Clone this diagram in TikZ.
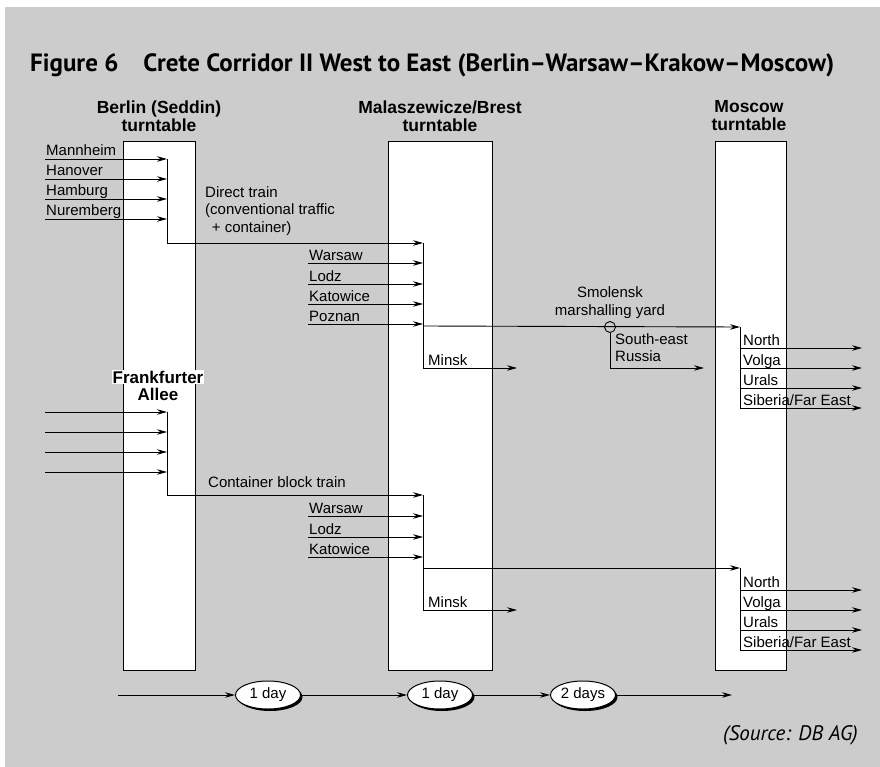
\documentclass[tikz,border=0pt]{standalone}
\usepackage{fontspec}
\setmainfont{Liberation Sans}
\newfontfamily\titlefont{PT Sans}
\usetikzlibrary{arrows.meta,shapes.geometric,shadows}
\definecolor{panel}{RGB}{204,204,204}
\tikzset{
  lab/.style={anchor=base west, inner sep=0pt, font=\fontsize{15}{17}\selectfont},
  hdr/.style={align=center, inner sep=0pt, font=\bfseries\fontsize{17.5}{18}\selectfont},
  wlab/.style={inner sep=1pt, fill=white, font=\bfseries\fontsize{17}{18}\selectfont},
  turn/.style={draw, fill=white, line width=1.1pt, inner sep=0pt, anchor=north west},
  conn/.style={line width=0.9pt},
  arr/.style={conn, -{Stealth[length=10pt,width=5.5pt]}},
  day/.style={ellipse, draw, fill=white, line width=1pt, minimum width=65pt, minimum height=28pt,
    inner sep=0pt, font=\fontsize{15}{17}\selectfont,
    drop shadow={shadow xshift=2pt, shadow yshift=-2pt, fill=black, opacity=1}},
  hub/.style={circle, draw, line width=0.9pt, minimum size=11pt, inner sep=0pt},
}
\begin{document}
\begin{tikzpicture}[x=1pt,y=-1pt]
\useasboundingbox (0,0) rectangle (880,767);
\fill[white] (0,0) rectangle (880,767);
\fill[panel] (5,7) rectangle (880,767);

% title and source
\node[anchor=west, inner sep=0pt, font=\titlefont\bfseries\fontsize{25}{28}\selectfont] (title) at (30,65)
  {Figure 6\hspace{1em}Crete Corridor II West to East (Berlin–Warsaw–Krakow–Moscow)};
\node[anchor=base east, inner sep=0pt, font=\titlefont\itshape\fontsize{21}{24}\selectfont] (src) at (858,740)
  {(Source: DB AG)};

% turntables
\node[turn, minimum width=72pt, minimum height=529pt] (berlin) at (123,141) {};
\node[turn, minimum width=104pt, minimum height=529pt] (brest) at (388,141) {};
\node[turn, minimum width=71pt, minimum height=529pt] (moscow) at (715,141) {};

\node[hdr] (hberlin) at (159,116) {Berlin (Seddin)\\turntable};
\node[hdr] (hbrest) at (440,116) {Malaszewicze/Brest\\turntable};
\node[hdr] (hmoscow) at (749,116) {Moscow\\turntable};

% ---------- upper flow ----------
\node[lab] (lman) at (46,156) {Mannheim};
\node[lab] (lhan) at (46,176) {Hanover};
\node[lab] (lham) at (46,196) {Hamburg};
\node[lab] (lnur) at (46,216) {Nuremberg};
\coordinate (s1) at (45,159); \coordinate (j1) at (167,159);
\coordinate (s2) at (45,179); \coordinate (j2) at (167,179);
\coordinate (s3) at (45,199); \coordinate (j3) at (167,199);
\coordinate (s4) at (45,219); \coordinate (j4) at (167,219);
\coordinate (jb) at (167,243);
\foreach \i in {1,...,4} \draw[arr] (s\i) -- (j\i);

\node[anchor=north west, align=left, inner sep=0pt, font=\fontsize{15}{17.5}\selectfont] (ldirect) at (205,186)
  {Direct train\\(conventional traffic\\\ \,+ container)};

\coordinate (w0) at (423,243);
\draw[conn] (j1) -- (jb);
\draw[arr] (jb) -- (w0);

\node[lab] (lwar) at (309,260) {Warsaw};
\node[lab] (llod) at (309,281) {Lodz};
\node[lab] (lkat) at (309,301) {Katowice};
\node[lab] (lpoz) at (309,321) {Poznan};
\coordinate (t1) at (308,263); \coordinate (u1) at (423,263);
\coordinate (t2) at (308,284); \coordinate (u2) at (423,284);
\coordinate (t3) at (308,304); \coordinate (u3) at (423,304);
\coordinate (t4) at (308,324); \coordinate (u4) at (423,324);
\foreach \i in {1,...,4} \draw[arr] (t\i) -- (u\i);

\coordinate (wx) at (423,326);
\coordinate (wm) at (423,368);
\coordinate (minskA) at (517,368);
\draw[conn] (w0) -- (wm);
\draw[arr] (wm) -- (minskA);
\node[lab] (lminA) at (428,365) {Minsk};

\node[hub] (smol) at (610,327) {};
\node[align=center, inner sep=0pt, font=\fontsize{15}{18}\selectfont] (lsmol) at (610,303) {Smolensk\\marshalling yard};
\coordinate (m0) at (740,327);
\draw[arr] (wx) -- (m0);
\coordinate (ser) at (610,368);
\coordinate (serE) at (704,368);
\draw[conn] (smol.south) -- (ser);
\draw[arr] (ser) -- (serE);
\node[anchor=north west, align=left, inner sep=0pt, font=\fontsize{15}{17}\selectfont] (lser) at (615,333) {South-east\\Russia};

\node[lab] (lnorA) at (743,345) {North};
\node[lab] (lvolA) at (743,365) {Volga};
\node[lab] (lurA) at (743,385) {Urals};
\node[lab] (lsibA) at (743,405) {Siberia/Far East};
\coordinate (p1) at (740,348); \coordinate (q1) at (862,348);
\coordinate (p2) at (740,368); \coordinate (q2) at (862,368);
\coordinate (p3) at (740,388); \coordinate (q3) at (862,388);
\coordinate (p4) at (740,408); \coordinate (q4) at (862,408);
\draw[conn] (m0) -- (p4);
\foreach \i in {1,...,4} \draw[arr] (p\i) -- (q\i);

% ---------- lower flow ----------
\node[wlab] (lfra) at (158,377) {Frankfurter};
\node[wlab] (lall) at (158,394) {Allee};
\coordinate (f1) at (45,412); \coordinate (g1) at (167,412);
\coordinate (f2) at (45,432); \coordinate (g2) at (167,432);
\coordinate (f3) at (45,452); \coordinate (g3) at (167,452);
\coordinate (f4) at (45,472); \coordinate (g4) at (167,472);
\coordinate (gb) at (167,495);
\foreach \i in {1,...,4} \draw[arr] (f\i) -- (g\i);
\node[lab] (lcont) at (208,487) {Container block train};
\coordinate (v0) at (423,495);
\draw[conn] (g1) -- (gb);
\draw[arr] (gb) -- (v0);

\node[lab] (lwarB) at (309,513) {Warsaw};
\node[lab] (llodB) at (309,534) {Lodz};
\node[lab] (lkatB) at (309,554) {Katowice};
\coordinate (x1) at (308,516); \coordinate (y1) at (423,516);
\coordinate (x2) at (308,537); \coordinate (y2) at (423,537);
\coordinate (x3) at (308,557); \coordinate (y3) at (423,557);
\foreach \i in {1,...,3} \draw[arr] (x\i) -- (y\i);

\coordinate (vx) at (423,568);
\coordinate (vm) at (423,610);
\coordinate (minskB) at (517,610);
\draw[conn] (v0) -- (vm);
\draw[arr] (vm) -- (minskB);
\node[lab] (lminB) at (428,607) {Minsk};

\coordinate (n0) at (740,568);
\draw[arr] (vx) -- (n0);
\node[lab] (lnorB) at (743,587) {North};
\node[lab] (lvolB) at (743,607) {Volga};
\node[lab] (lurB) at (743,627) {Urals};
\node[lab] (lsibB) at (743,647) {Siberia/Far East};
\coordinate (r1) at (740,590); \coordinate (z1) at (862,590);
\coordinate (r2) at (740,610); \coordinate (z2) at (862,610);
\coordinate (r3) at (740,630); \coordinate (z3) at (862,630);
\coordinate (r4) at (740,650); \coordinate (z4) at (862,650);
\draw[conn] (n0) -- (r4);
\foreach \i in {1,...,4} \draw[arr] (r\i) -- (z\i);

% ---------- time line ----------
\coordinate (tl0) at (118,695);
\node[day] (d1) at (268,695) {1 day};
\node[day] (d2) at (440,695) {1 day};
\node[day] (d3) at (583,695) {2 days};
\coordinate (tlE) at (732,695);
\draw[arr] (tl0) -- (d1);
\draw[arr] (d1) -- (d2);
\draw[arr] (d2) -- (d3);
\draw[arr] (d3) -- (tlE);
\end{tikzpicture}
\end{document}
